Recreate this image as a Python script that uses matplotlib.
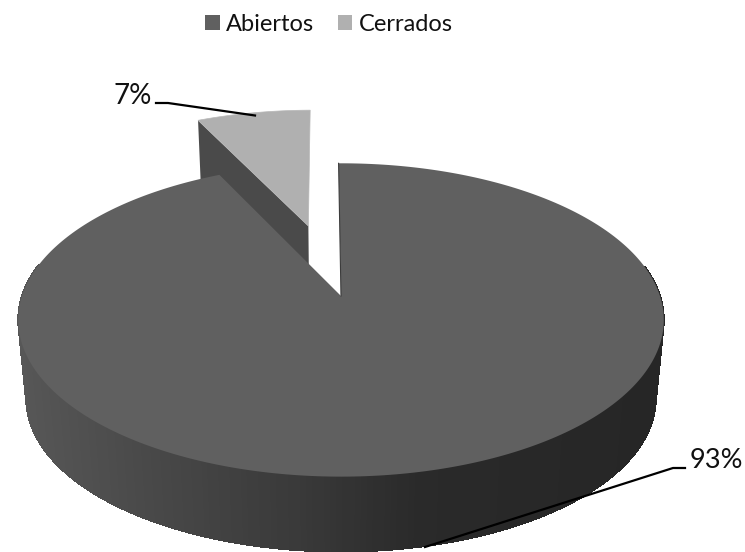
import numpy as np
import matplotlib
matplotlib.use('Agg')
import matplotlib.pyplot as plt
from matplotlib.collections import PolyCollection
from matplotlib.patches import Patch, Polygon

categories = ['Abiertos', 'Cerrados']
percent = [93, 7]
colors = ['#606060', '#b0b0b0']

plt.rcParams['font.family'] = ['Lato', 'DejaVu Sans']

# projection of the pie, in image pixels
CX, CY = 341, 296
RX, RY = 319, 153
PERSP = 0.153
SHRINK = 0.975
DROP = 79.5
START = np.radians(-0.5)
EXPLODE = 0.504


def project(X, Y, low=False):
    s = 1 / (1 + PERSP * Y)
    x = RX * X * s
    y = -RY * Y * s
    if low:
        return CX + SHRINK * x, CY + SHRINK * y + DROP
    return CX + x, CY + y


def clock(t):
    # t clockwise from twelve o'clock
    return np.sin(t), np.cos(t)


def wall_shade(x):
    return np.interp(x, [20, 150, 300, 420, 660], [0.34, 0.285, 0.225, 0.165, 0.15])


fig = plt.figure(figsize=(7.45, 5.52), dpi=100)
ax = fig.add_axes([0, 0, 1, 1])
ax.set_xlim(0, 745)
ax.set_ylim(552, 0)
ax.axis('off')

total = sum(percent)
a0 = START
a1 = a0 + 2 * np.pi * percent[0] / total
a2 = a0 + 2 * np.pi

# exploded slice goes behind the big one
mid = (a1 + a2) / 2 - START
ox, oy = clock(mid)
ox, oy = ox * EXPLODE, oy * EXPLODE
t = np.linspace(a1, a2, 40)
sx, sy = clock(t)
sx, sy = sx + ox, sy + oy

ex, ey = clock(a1)
edge_top = [project(ex + ox, ey + oy), project(ox, oy)]
edge_low = [project(ox, oy, low=True), project(ex + ox, ey + oy, low=True)]
ax.add_patch(Polygon(edge_top + edge_low, fc='#4a4a4a', ec='none', zorder=1))
top = np.column_stack(project(sx, sy))
ax.add_patch(Polygon(np.vstack([top, project(ox, oy)]), fc=colors[1], ec='#b8b8b8', lw=0.5, zorder=2))

# side wall of the big slice, back part is hidden by the top
t = np.linspace(a0, a1, 361)
mx, my = clock(t)
hx, hy = project(mx, my)
lx, ly = project(mx, my, low=True)
quads = [[(hx[i], hy[i]), (hx[i + 1], hy[i + 1]), (lx[i + 1], ly[i + 1]), (lx[i], ly[i])]
         for i in range(len(t) - 1) if my[i] < 0.2]
shades = wall_shade(np.array([(q[0][0] + q[1][0]) / 2 for q in quads]))
wall = PolyCollection(quads, facecolors=plt.cm.gray(shades), edgecolors=plt.cm.gray(shades),
                      linewidths=0.6, antialiaseds=False, zorder=3)
ax.add_collection(wall)

# top of the big slice
ax.add_patch(Polygon(np.vstack([np.column_stack([hx, hy]), (CX, CY)]), fc=colors[0], ec='none', zorder=4))
ax.plot([hx[0], CX], [hy[0], CY], color='#3c3c3c', lw=0.8, zorder=5)

# leader lines and labels
ax.plot([156, 168, 255], [103, 103, 115.5], color='black', lw=1.6, zorder=6)
ax.plot([685, 673, 425], [468, 468, 547], color='black', lw=1.6, zorder=6)
ax.text(152, 96, f'{percent[1]}%', fontsize=20, ha='right', va='center', color='#111111')
ax.text(690, 460, f'{percent[0]}%', fontsize=19.5, ha='left', va='center', color='#111111')

handles = [Patch(fc=c, ec='none', label=n) for c, n in zip(colors, categories)]
ax.legend(handles=handles, loc='upper center', bbox_to_anchor=(0.4416, 1.014), ncol=2, frameon=False,
          fontsize=17, handlelength=0.6, handleheight=0.6, handletextpad=0.28, columnspacing=1.0,
          labelcolor='#111111')

fig.savefig('out.png', dpi=100)
plt.close()
